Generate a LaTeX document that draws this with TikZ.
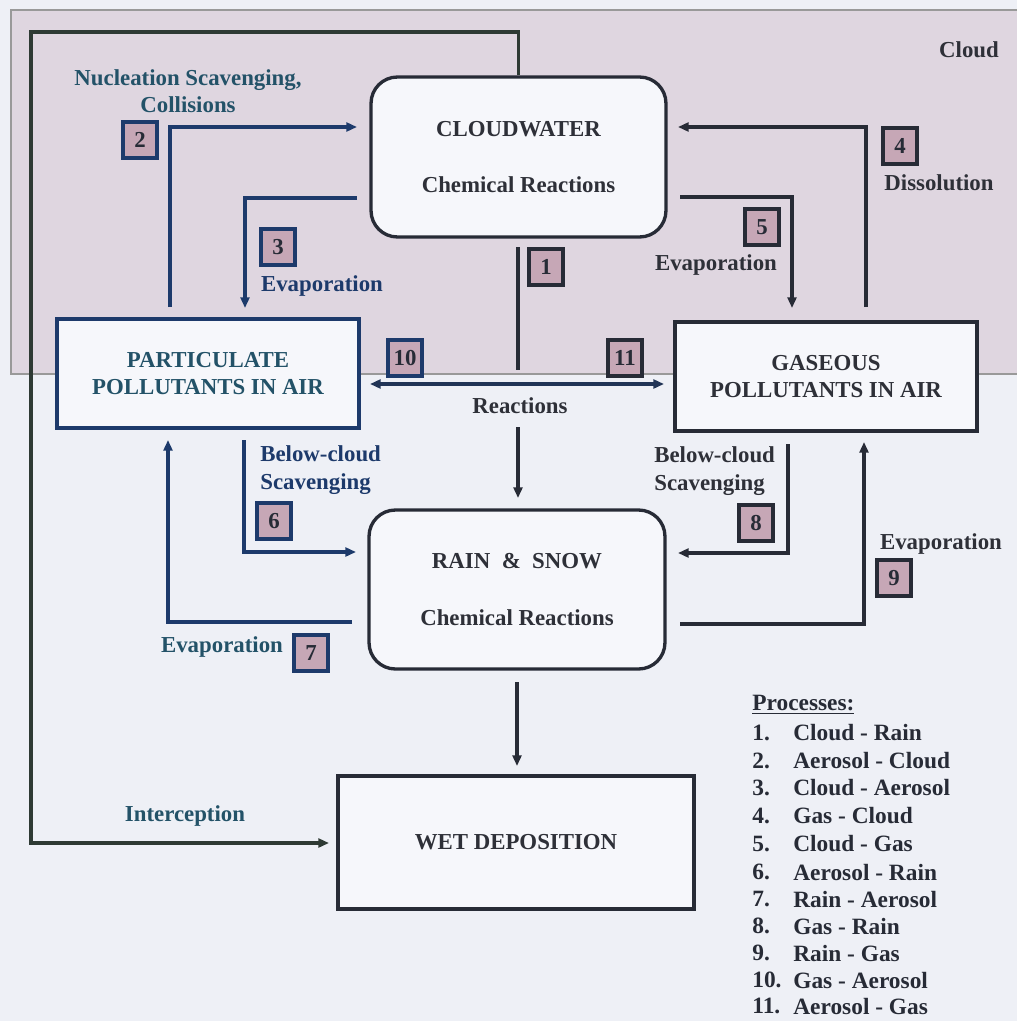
\documentclass[tikz,border=0pt]{standalone}
\usepackage{fontspec}
\setmainfont{Liberation Serif}
\usetikzlibrary{arrows.meta}
\definecolor{bg}{HTML}{EEF0F6}
\definecolor{cloudc}{HTML}{DFD6E0}
\definecolor{boxfill}{HTML}{F6F7FB}
\definecolor{navy}{HTML}{1D3A6B}
\definecolor{darkc}{HTML}{272B36}
\definecolor{tealt}{HTML}{235268}
\definecolor{greytxt}{HTML}{2E3038}
\definecolor{mauve}{HTML}{C6A7B6}
\definecolor{outerc}{HTML}{2E3A34}
\begin{document}
\begin{tikzpicture}[x=0.02cm,y=-0.02cm,
  boxA/.style={draw=#1, line width=2.2pt, fill=boxfill, inner sep=0pt, align=center},
  rbox/.style={boxA=#1, rounded corners=15pt, line width=1.9pt},
  twoline/.style={font=\fontsize{13}{32}\selectfont\bfseries},
  tightline/.style={font=\fontsize{13}{15.6}\selectfont\bfseries},
  numbox/.style={draw=#1, line width=2pt, fill=mauve, minimum width=0.68cm, minimum height=0.72cm, inner sep=0pt, font=\fontsize{13}{15}\selectfont\bfseries, text=darkc},
  lbl/.style={font=\fontsize{13}{15.6}\selectfont\bfseries, inner sep=0pt, align=center},
  arrL/.style={draw=navy, line width=1.8pt, -{Triangle[length=6pt,width=5pt]}},
  arrR/.style={draw=darkc, line width=1.8pt, -{Triangle[length=6pt,width=5pt]}},
  lineR/.style={draw=darkc, line width=1.8pt},
  leg/.style={font=\fontsize{13.3}{16}\selectfont\bfseries, text=darkc, inner sep=0pt, anchor=west}
]
\useasboundingbox (0,0) rectangle (1017,1021);
\fill[bg] (0,0) rectangle (1017,1021);
% cloud region
\filldraw[fill=cloudc, draw=gray!80, line width=0.6pt] (11,10) rectangle (1019,374);
\node[lbl, text=greytxt] (cloudlbl) at (969,50) {Cloud};

% boxes
\node[rbox=darkc, minimum width=5.9cm, minimum height=3.2cm, twoline, text=greytxt] (cw) at (518.5,157) {CLOUDWATER\\Chemical Reactions};
\node[boxA=navy, minimum width=6.04cm, minimum height=2.18cm, tightline, text=tealt] (part) at (208,373.5) {PARTICULATE\\POLLUTANTS IN AIR};
\node[boxA=darkc, minimum width=6.04cm, minimum height=2.18cm, tightline, text=greytxt] (gas) at (826,376.5) {GASEOUS\\POLLUTANTS IN AIR};
\node[rbox=darkc, minimum width=5.92cm, minimum height=3.18cm, twoline, text=greytxt] (rs) at (517,589.5) {RAIN\ \ \&\ \ SNOW\\Chemical Reactions};
\node[boxA=darkc, minimum width=7.12cm, minimum height=2.66cm, tightline, text=greytxt] (wet) at (516,842.5) {WET DEPOSITION};

% interception loop
\coordinate (o1) at (31,32);
\coordinate (o2) at (329,843);
\draw[draw=outerc, line width=1.8pt, -{Triangle[length=6pt,width=5pt]}] (cw.north) |- (o1) |- (o2);
\node[lbl, text=tealt] (intl) at (185,816) {Interception};

% 2: aerosol -> cloud
\coordinate (a2s) at (170,307); \coordinate (a2e) at (357,127);
\draw[arrL] (a2s) |- (a2e);
\node[lbl, text=tealt] (nuc) at (188,91) {Nucleation Scavenging,\\Collisions};
\node[numbox=navy] (n2) at (140,140) {2};

% 3: cloud -> aerosol
\coordinate (a3s) at (357,198); \coordinate (a3e) at (245,308);
\draw[arrL] (a3s) -| (a3e);
\node[numbox=navy] (n3) at (278,247) {3};
\node[lbl, text=navy] (ev3) at (322,286) {Evaporation};

% 4: gas -> cloud
\coordinate (a4s) at (866,307); \coordinate (a4e) at (678,127);
\draw[arrR] (a4s) |- (a4e);
\node[numbox=darkc] (n4) at (900,146) {4};
\node[lbl, text=greytxt] (dis) at (939,183) {Dissolution};

% 5: cloud -> gas
\coordinate (a5s) at (680,197); \coordinate (a5e) at (792,308);
\draw[arrR] (a5s) -| (a5e);
\node[numbox=darkc] (n5) at (762,227) {5};
\node[lbl, text=greytxt] (ev5) at (716,265) {Evaporation};

% 1: cloud -> rain, 10/11 reactions
\coordinate (c1a) at (518,247); \coordinate (c1b) at (518,370);
\draw[lineR] (c1a) -- (c1b);
\node[numbox=darkc] (n1) at (546,267) {1};
\coordinate (r10) at (370,384); \coordinate (r11) at (664,384);
\draw[draw=navy!60!darkc, line width=1.8pt, {Triangle[length=6pt,width=5pt]}-{Triangle[length=6pt,width=5pt]}] (r10) -- (r11);
\node[numbox=navy] (n10) at (405,358) {10};
\node[numbox=darkc] (n11) at (625,358) {11};
\node[lbl, text=greytxt] (react) at (520,406) {Reactions};
\coordinate (r1a) at (518,427); \coordinate (r1b) at (518,498);
\draw[arrR] (r1a) -- (r1b);

% 6: aerosol -> rain
\coordinate (a6s) at (244,440); \coordinate (a6e) at (356,552);
\draw[arrL] (a6s) |- (a6e);
\node[lbl, text=navy, align=left, anchor=west] (bc6) at (260,470) {Below-cloud\\Scavenging};
\node[numbox=navy] (n6) at (274,521) {6};

% 7: rain -> aerosol
\coordinate (a7s) at (352,622); \coordinate (a7e) at (168,440);
\draw[arrL] (a7s) -| (a7e);
\node[lbl, text=tealt] (ev7) at (222,647) {Evaporation};
\node[numbox=navy] (n7) at (311,653) {7};

% 8: gas -> rain
\coordinate (a8s) at (788,444); \coordinate (a8e) at (678,553);
\draw[arrR] (a8s) |- (a8e);
\node[lbl, text=greytxt, align=left, anchor=west] (bc8) at (654,471) {Below-cloud\\Scavenging};
\node[numbox=darkc] (n8) at (756,523) {8};

% 9: rain -> gas
\coordinate (a9s) at (680,624); \coordinate (a9e) at (864,442);
\draw[arrR] (a9s) -| (a9e);
\node[lbl, text=greytxt] (ev9) at (941,544) {Evaporation};
\node[numbox=darkc] (n9) at (894,578) {9};

% rain -> wet deposition
\coordinate (rw1) at (517,682); \coordinate (rw2) at (517,766);
\draw[draw=darkc, line width=1.8pt, -{Triangle[length=6pt,width=5pt]}] (rw1) -- (rw2);

% legend
\node[leg] (proc) at (752,705) {\underline{Processes:}};
\foreach \n/\t/\y in {1/Cloud - Rain/733, 2/Aerosol - Cloud/761, 3/Cloud - Aerosol/788, 4/Gas - Cloud/816, 5/Cloud - Gas/844, 6/Aerosol - Rain/872, 7/Rain - Aerosol/899, 8/Gas - Rain/926, 9/Rain - Gas/953, 10/Gas - Aerosol/980, 11/Aerosol - Gas/1006}{
  \node[leg] (ln\n) at (752,\y) {\n.};
  \node[leg] (lt\n) at (793,\y) {\t};
}
\end{tikzpicture}
\end{document}
